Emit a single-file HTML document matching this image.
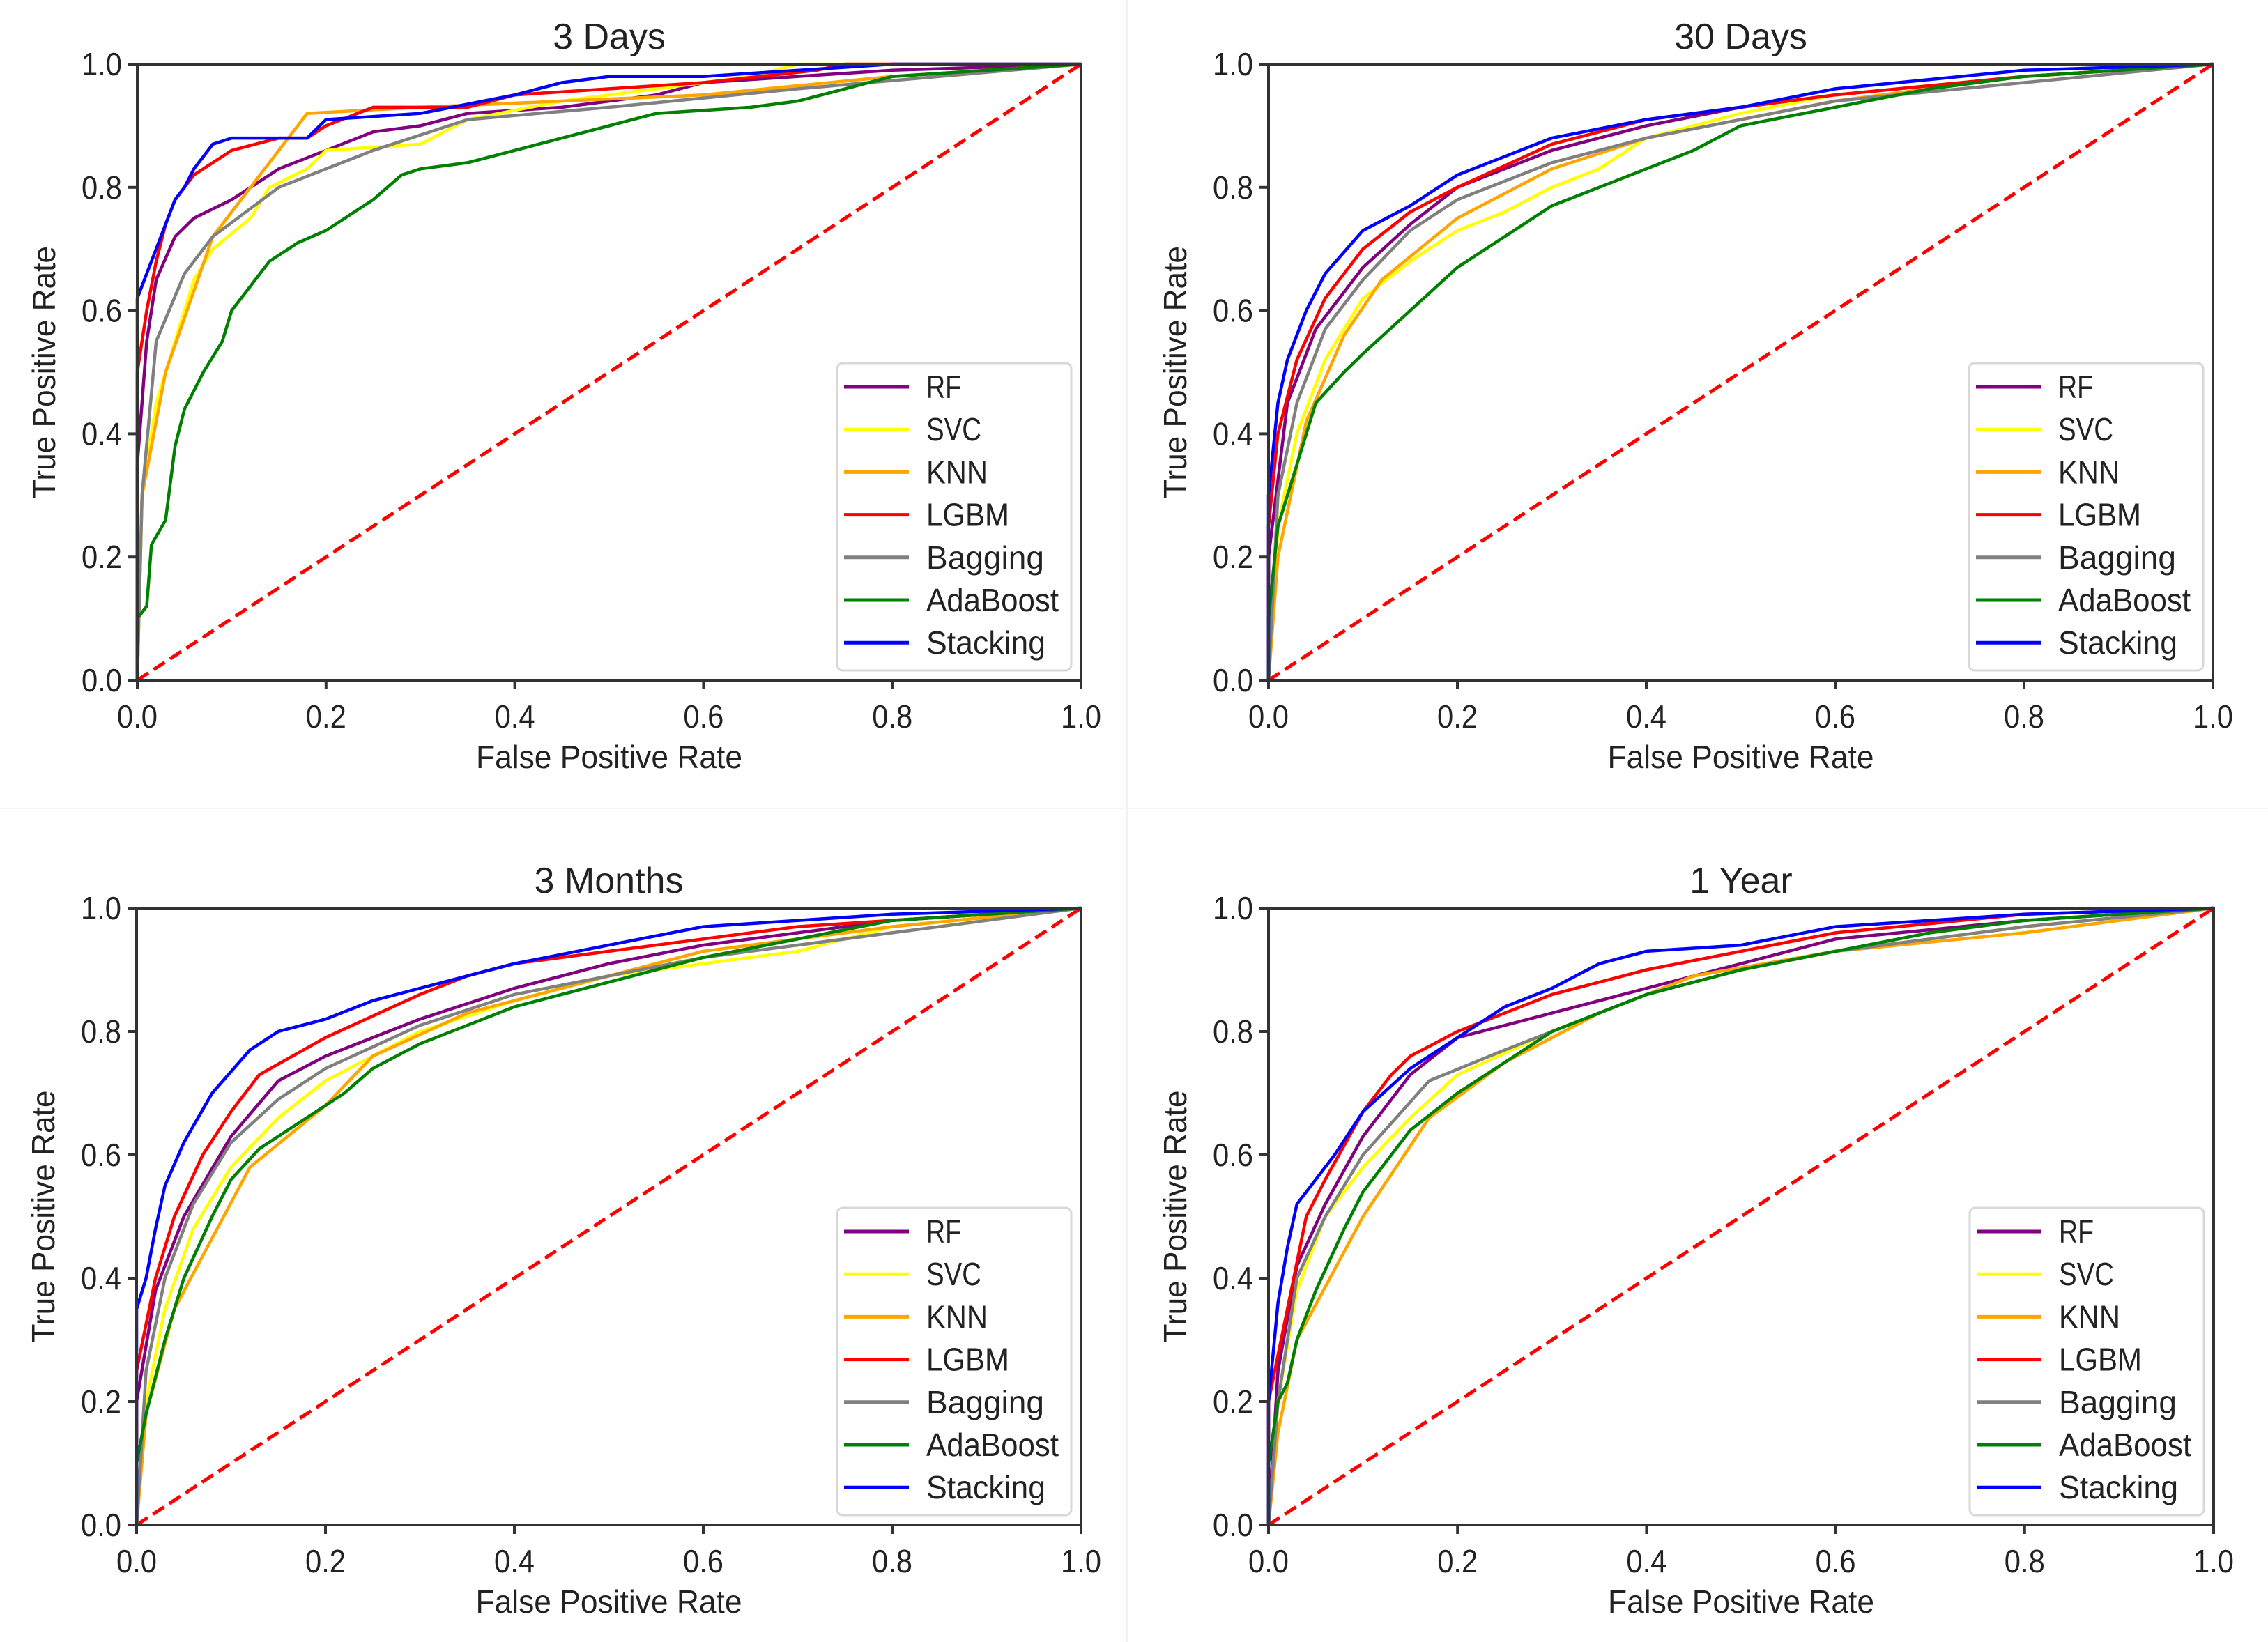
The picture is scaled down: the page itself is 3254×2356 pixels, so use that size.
<!DOCTYPE html>
<html><head><meta charset="utf-8">
<style>
html,body{margin:0;padding:0;background:#fff;}
svg{display:block;}
text{font-family:"Liberation Sans","DejaVu Sans",sans-serif;fill:#222;}
</style></head>
<body>
<svg id="fig" width="3254" height="2356" viewBox="0 0 3254 2356" xmlns="http://www.w3.org/2000/svg">
<rect x="0" y="0" width="3254" height="2356" fill="#fff"/>
<line x1="1617" y1="0" x2="1617" y2="2356" stroke="#f2f2f2" stroke-width="2"/>
<line x1="0" y1="1160" x2="3254" y2="1160" stroke="#f6f6f6" stroke-width="2"/>
</svg>
<script>
// ---- data: [fpr, tpr] points per curve ----
const tickLabels = ["0.0","0.2","0.4","0.6","0.8","1.0"];
const tickValues = [0,0.2,0.4,0.6,0.8,1.0];
const modelNames = ["RF","SVC","KNN","LGBM","Bagging","AdaBoost","Stacking"];
const panelTitles = ["3 Days","30 Days","3 Months","1 Year"];

const p1_rf = [[0,0],[0,0.35],[0.01,0.55],[0.02,0.65],[0.04,0.72],[0.06,0.75],[0.1,0.78],[0.15,0.83],[0.2,0.86],[0.25,0.89],[0.3,0.9],[0.35,0.92],[0.45,0.93],[0.55,0.95],[0.6,0.97],[0.8,0.99],[1,1]];
const p1_svc = [[0,0],[0.005,0.3],[0.02,0.45],[0.04,0.55],[0.06,0.65],[0.08,0.7],[0.12,0.75],[0.14,0.8],[0.18,0.83],[0.2,0.86],[0.3,0.87],[0.35,0.91],[0.45,0.94],[0.55,0.96],[0.65,0.98],[0.7,1],[1,1]];
const p1_knn = [[0,0],[0.005,0.3],[0.03,0.5],[0.08,0.72],[0.18,0.92],[0.3,0.93],[0.6,0.95],[0.8,0.98],[1,1]];
const p1_lgbm = [[0,0],[0,0.5],[0.01,0.6],[0.02,0.68],[0.03,0.74],[0.04,0.78],[0.06,0.82],[0.08,0.84],[0.1,0.86],[0.15,0.88],[0.18,0.88],[0.2,0.9],[0.25,0.93],[0.35,0.93],[0.4,0.95],[0.5,0.96],[0.6,0.97],[0.72,0.99],[0.75,1],[1,1]];
const p1_bag = [[0,0],[0.005,0.3],[0.02,0.55],[0.05,0.66],[0.08,0.72],[0.15,0.8],[0.25,0.86],[0.35,0.91],[0.5,0.93],[0.7,0.96],[1,1]];
const p1_ada = [[0,0],[0,0.1],[0.01,0.12],[0.015,0.22],[0.03,0.26],[0.04,0.38],[0.05,0.44],[0.07,0.5],[0.09,0.55],[0.1,0.6],[0.12,0.64],[0.14,0.68],[0.17,0.71],[0.2,0.73],[0.25,0.78],[0.28,0.82],[0.3,0.83],[0.35,0.84],[0.4,0.86],[0.45,0.88],[0.5,0.9],[0.55,0.92],[0.65,0.93],[0.7,0.94],[0.75,0.96],[0.8,0.98],[1,1]];
const p1_stk = [[0,0],[0,0.62],[0.01,0.66],[0.02,0.7],[0.03,0.74],[0.04,0.78],[0.05,0.8],[0.06,0.83],[0.07,0.85],[0.08,0.87],[0.1,0.88],[0.18,0.88],[0.2,0.91],[0.3,0.92],[0.4,0.95],[0.45,0.97],[0.5,0.98],[0.6,0.98],[0.8,1],[1,1]];

const p2_rf = [[0,0],[0,0.2],[0.02,0.45],[0.05,0.57],[0.1,0.67],[0.15,0.74],[0.2,0.8],[0.3,0.86],[0.4,0.9],[0.5,0.93],[0.6,0.95],[0.8,0.98],[1,1]];
const p2_svc = [[0,0],[0.01,0.25],[0.03,0.4],[0.06,0.52],[0.1,0.62],[0.15,0.68],[0.2,0.73],[0.25,0.76],[0.3,0.8],[0.35,0.83],[0.4,0.88],[0.5,0.92],[0.6,0.95],[0.8,0.98],[1,1]];
const p2_knn = [[0,0],[0.01,0.2],[0.04,0.42],[0.08,0.56],[0.12,0.65],[0.2,0.75],[0.3,0.83],[0.4,0.88],[0.6,0.94],[0.8,0.98],[1,1]];
const p2_lgbm = [[0,0],[0,0.25],[0.01,0.4],[0.03,0.52],[0.06,0.62],[0.1,0.7],[0.15,0.76],[0.2,0.8],[0.3,0.87],[0.4,0.91],[0.5,0.93],[0.6,0.95],[0.8,0.98],[1,1]];
const p2_bag = [[0,0],[0.01,0.3],[0.03,0.45],[0.06,0.57],[0.1,0.65],[0.15,0.73],[0.2,0.78],[0.3,0.84],[0.4,0.88],[0.5,0.91],[0.6,0.94],[0.8,0.97],[1,1]];
const p2_ada = [[0,0],[0,0.1],[0.01,0.25],[0.03,0.35],[0.05,0.45],[0.08,0.5],[0.1,0.53],[0.15,0.6],[0.2,0.67],[0.25,0.72],[0.3,0.77],[0.35,0.8],[0.4,0.83],[0.45,0.86],[0.5,0.9],[0.6,0.93],[0.7,0.96],[0.8,0.98],[1,1]];
const p2_stk = [[0,0],[0,0.3],[0.01,0.45],[0.02,0.52],[0.04,0.6],[0.06,0.66],[0.1,0.73],[0.15,0.77],[0.2,0.82],[0.3,0.88],[0.4,0.91],[0.5,0.93],[0.6,0.96],[0.8,0.99],[1,1]];

const p3_rf = [[0,0],[0,0.2],[0.02,0.38],[0.05,0.5],[0.1,0.63],[0.15,0.72],[0.2,0.76],[0.3,0.82],[0.4,0.87],[0.5,0.91],[0.6,0.94],[0.8,0.98],[1,1]];
const p3_svc = [[0,0],[0.01,0.2],[0.03,0.35],[0.06,0.48],[0.1,0.58],[0.15,0.66],[0.2,0.72],[0.3,0.8],[0.4,0.85],[0.5,0.89],[0.6,0.91],[0.7,0.93],[0.8,0.97],[1,1]];
const p3_knn = [[0,0],[0.01,0.18],[0.04,0.35],[0.12,0.58],[0.2,0.68],[0.25,0.76],[0.35,0.83],[0.5,0.89],[0.6,0.93],[0.8,0.97],[1,1]];
const p3_lgbm = [[0,0],[0,0.25],[0.02,0.4],[0.04,0.5],[0.07,0.6],[0.1,0.67],[0.13,0.73],[0.2,0.79],[0.3,0.86],[0.35,0.89],[0.4,0.91],[0.5,0.93],[0.6,0.95],[0.7,0.97],[0.8,0.98],[1,1]];
const p3_bag = [[0,0],[0.01,0.25],[0.03,0.4],[0.06,0.52],[0.1,0.62],[0.15,0.69],[0.2,0.74],[0.3,0.81],[0.4,0.86],[0.5,0.89],[0.6,0.92],[0.8,0.96],[1,1]];
const p3_ada = [[0,0],[0,0.1],[0.01,0.18],[0.03,0.3],[0.05,0.4],[0.08,0.5],[0.1,0.56],[0.13,0.61],[0.18,0.66],[0.22,0.7],[0.25,0.74],[0.3,0.78],[0.35,0.81],[0.4,0.84],[0.5,0.88],[0.6,0.92],[0.7,0.95],[0.8,0.98],[1,1]];
const p3_stk = [[0,0],[0,0.35],[0.01,0.4],[0.02,0.48],[0.03,0.55],[0.05,0.62],[0.08,0.7],[0.12,0.77],[0.15,0.8],[0.2,0.82],[0.25,0.85],[0.3,0.87],[0.4,0.91],[0.5,0.94],[0.6,0.97],[0.7,0.98],[0.8,0.99],[1,1]];

const p4_rf = [[0,0],[0.01,0.25],[0.03,0.42],[0.06,0.52],[0.1,0.63],[0.15,0.73],[0.2,0.79],[0.3,0.83],[0.4,0.87],[0.5,0.91],[0.6,0.95],[0.8,0.98],[1,1]];
const p4_svc = [[0,0],[0.01,0.2],[0.03,0.38],[0.06,0.5],[0.1,0.58],[0.15,0.66],[0.2,0.73],[0.3,0.8],[0.4,0.86],[0.5,0.9],[0.6,0.93],[0.8,0.97],[1,1]];
const p4_knn = [[0,0],[0.01,0.15],[0.03,0.3],[0.1,0.5],[0.17,0.66],[0.25,0.75],[0.35,0.83],[0.45,0.89],[0.6,0.93],[0.8,0.96],[1,1]];
const p4_lgbm = [[0,0],[0,0.2],[0.02,0.35],[0.04,0.5],[0.06,0.56],[0.1,0.67],[0.13,0.73],[0.15,0.76],[0.2,0.8],[0.25,0.83],[0.3,0.86],[0.4,0.9],[0.5,0.93],[0.6,0.96],[0.8,0.99],[1,1]];
const p4_bag = [[0,0],[0.01,0.2],[0.03,0.4],[0.06,0.5],[0.1,0.6],[0.17,0.72],[0.25,0.77],[0.4,0.86],[0.5,0.9],[0.6,0.93],[0.8,0.97],[1,1]];
const p4_ada = [[0,0],[0,0.1],[0.01,0.2],[0.02,0.23],[0.03,0.3],[0.05,0.38],[0.08,0.48],[0.1,0.54],[0.15,0.64],[0.2,0.7],[0.25,0.75],[0.3,0.8],[0.4,0.86],[0.5,0.9],[0.6,0.93],[0.7,0.96],[0.8,0.98],[1,1]];
const p4_stk = [[0,0],[0,0.2],[0.01,0.36],[0.02,0.45],[0.03,0.52],[0.05,0.56],[0.07,0.6],[0.1,0.67],[0.15,0.74],[0.2,0.79],[0.25,0.84],[0.3,0.87],[0.35,0.91],[0.4,0.93],[0.5,0.94],[0.6,0.97],[0.7,0.98],[0.8,0.99],[1,1]];

const panel1 = [p1_rf,p1_svc,p1_knn,p1_lgbm,p1_bag,p1_ada,p1_stk];
const panel2 = [p2_rf,p2_svc,p2_knn,p2_lgbm,p2_bag,p2_ada,p2_stk];
const panel3 = [p3_rf,p3_svc,p3_knn,p3_lgbm,p3_bag,p3_ada,p3_stk];
const panel4 = [p4_rf,p4_svc,p4_knn,p4_lgbm,p4_bag,p4_ada,p4_stk];

// ---- styling / layout ----
const colors = ["#800080","#ffff00","#ffa500","#ff0000","#808080","#008000","#0000ff"];
const layouts = [
  {x:197,y:92,w:1354,h:884},
  {x:1820,y:92,w:1355,h:884},
  {x:196,y:1303,w:1355,h:885},
  {x:1820,y:1303,w:1356,h:885}
];
const panels = [panel1,panel2,panel3,panel4];
const legendWidths = [50,79,88,119,169,190,171];
const NS = "http://www.w3.org/2000/svg";
const svg = document.getElementById("fig");

function mk(tag, attrs, parent){
  const e = document.createElementNS(NS, tag);
  for (const k in attrs) e.setAttribute(k, attrs[k]);
  parent.appendChild(e);
  return e;
}

panels.forEach((curves, pi) => {
  const L = layouts[pi];
  const sx = v => L.x + v * L.w;
  const sy = v => L.y + L.h - v * L.h;
  const g = mk("g", {}, svg);
  
  

  // title
  const t = mk("text", {x: L.x + L.w/2, y: L.y - 22, "text-anchor":"middle", "font-size":52}, g);
  t.textContent = panelTitles[pi];
  
  

  // diagonal
  const d = mk("line", {x1: sx(0), y1: sy(0), x2: sx(1), y2: sy(1), stroke:"#ff0000", "stroke-width":5, "stroke-dasharray":"19,9"}, g);
  
  

  // curves
  curves.forEach((pts, ci) => {
    const p = mk("polyline", {points: pts.map(q => sx(q[0]).toFixed(1)+","+sy(q[1]).toFixed(1)).join(" "), fill:"none", stroke: colors[ci], "stroke-width":4.5, "stroke-linejoin":"miter"}, g);
    
    
  });

  // axes frame
  const fr = mk("rect", {x:L.x, y:L.y, width:L.w, height:L.h, fill:"none", stroke:"#333", "stroke-width":4}, g);
  
  

  // ticks
  tickValues.forEach((v, ti) => {
    mk("line", {x1: sx(v), y1: L.y+L.h, x2: sx(v), y2: L.y+L.h+13, stroke:"#333", "stroke-width":4}, g);
    mk("line", {x1: L.x-13, y1: sy(v), x2: L.x, y2: sy(v), stroke:"#333", "stroke-width":4}, g);
    const xt = mk("text", {x: sx(v), y: L.y+L.h+68, "text-anchor":"middle", "font-size":46, textLength:58, lengthAdjust:"spacingAndGlyphs"}, g);
    xt.textContent = tickLabels[ti];
    
    
    const yt = mk("text", {x: L.x-80, y: sy(v)+16, "font-size":46, textLength:58, lengthAdjust:"spacingAndGlyphs"}, g);
    yt.textContent = tickLabels[ti];
    
    
  });

  // axis titles
  const xl = mk("text", {x: L.x + L.w/2, y: L.y+L.h+126, "text-anchor":"middle", "font-size":46, textLength:382, lengthAdjust:"spacingAndGlyphs"}, g);
  xl.textContent = "False Positive Rate";
  
  
  const yx = L.x - 118, yy = L.y + L.h/2;
  const yl = mk("text", {x: yx, y: yy, "text-anchor":"middle", "font-size":46, textLength:362, lengthAdjust:"spacingAndGlyphs", transform:"rotate(-90 "+yx+" "+yy+")"}, g);
  yl.textContent = "True Positive Rate";
  
  

  // legend
  const lx = L.x + L.w - 350, ly = L.y + L.h - 455;
  const lg = mk("g", {}, g);
  
  
  mk("rect", {x: lx, y: ly, width:336, height:441, rx:8, fill:"#fff", "fill-opacity":0.85, stroke:"#d8d8d8", "stroke-width":3}, lg);
  modelNames.forEach((name, i) => {
    const cy = ly + 34 + i * 61.2;
    const ent = mk("g", {}, lg);
    
    
    mk("line", {x1: lx+10, y1: cy, x2: lx+103, y2: cy, stroke: colors[i], "stroke-width":5}, ent);
    const tx = mk("text", {x: lx+128, y: cy+16, "font-size":46, textLength: legendWidths[i], lengthAdjust:"spacingAndGlyphs"}, ent);
    tx.textContent = name;
  });
});
</script>
</body></html>
